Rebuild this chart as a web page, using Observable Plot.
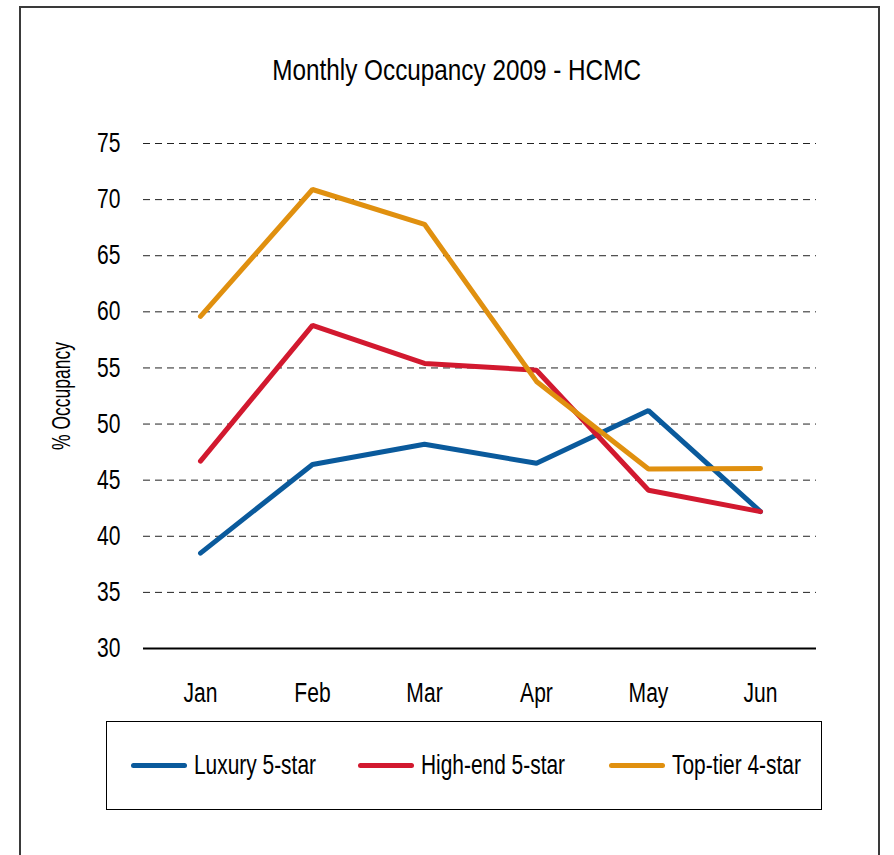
<!DOCTYPE html>
<html>
<head>
<meta charset="utf-8">
<script src="https://cdn.jsdelivr.net/npm/d3@7"></script>
<script src="https://cdn.jsdelivr.net/npm/@observablehq/plot@0.6"></script>
<style>
  html, body { margin: 0; padding: 0; background: #fff; }
  body { width: 894px; height: 855px; overflow: hidden; position: relative;
         font-family: "Liberation Sans", Arial, sans-serif; }
  #frame { position: absolute; left: 19px; top: 6px; width: 861px; height: 900px;
           border: 2px solid #3a3a3a; box-sizing: border-box; }
  #title { position: absolute; left: 0; width: 914px; top: 52px; text-align: center;
           font-size: 30px; color: #000; line-height: 36px; }
  #title span { display: inline-block; transform: scaleX(0.81); }
  #chart { position: absolute; left: 0; top: 0; }
  #legend { position: absolute; left: 106px; top: 721px; width: 716px; height: 89px;
            border: 1.5px solid #000; box-sizing: border-box; }
  .item { position: absolute; top: 0; height: 86px; display: flex; align-items: center;
          font-size: 27.5px; color: #000; white-space: nowrap; }
  .item .t { display: inline-block; transform: scaleX(0.76); transform-origin: 0 50%; }
  .sw { display: inline-block; width: 56px; height: 5px; border-radius: 3px; margin-right: 7px; }
</style>
</head>
<body>
<div id="frame"></div>
<div id="chart"></div>
<div id="title"><span>Monthly Occupancy 2009 - HCMC</span></div>
<div id="legend"></div>
<script>
const months = ["Jan", "Feb", "Mar", "Apr", "May", "Jun"];
const seriesNames = ["Luxury 5-star", "High-end 5-star", "Top-tier 4-star"];
const luxury = [38.5, 46.4, 48.2, 46.5, 51.2, 42.2];
const highEnd = [46.7, 58.8, 55.4, 54.8, 44.1, 42.2];
const topTier = [59.6, 70.9, 67.8, 53.8, 46.0, 46.05];
const yTicks = [30, 35, 40, 45, 50, 55, 60, 65, 70, 75];
const colors = ["#0a5a9c", "#d2192f", "#e0900f"];

const seriesValues = [luxury, highEnd, topTier];
const data = [];
seriesNames.forEach((s, i) => months.forEach((m, j) => data.push({series: s, month: m, value: seriesValues[i][j]})));

const font = '"Liberation Sans", Arial, sans-serif';

const chart = Plot.plot({
  width: 894,
  height: 700,
  marginLeft: 143,
  marginRight: 78,
  marginTop: 143,
  marginBottom: 52,
  style: {fontFamily: font, fontSize: "27px", color: "#000", background: "transparent", overflow: "visible"},
  x: {type: "point", domain: months, padding: 0.5, label: null, tickSize: 0, tickPadding: 34},
  y: {domain: [30, 75], ticks: yTicks, label: "% Occupancy", labelAnchor: "center", labelOffset: 91,
      tickSize: 0, tickPadding: 23, labelArrow: "none"},
  color: {domain: seriesNames, range: colors},
  marks: [
    Plot.ruleY(yTicks.filter(t => t > 30), {stroke: "#222", strokeWidth: 1, strokeDasharray: "7,5"}),
    Plot.ruleY([30], {stroke: "#000", strokeWidth: 2}),
    Plot.lineY(data, {x: "month", y: "value", z: "series", stroke: "series", strokeWidth: 5,
                      strokeLinecap: "round", strokeLinejoin: "miter"})
  ]
});
document.getElementById("chart").appendChild(chart);

// condense axis text to match the narrow typeface of the original
d3.select(chart).selectAll("g[aria-label='y-axis label'] text")
  .attr("font-size", 25);
d3.select(chart).selectAll("g[aria-label='y-axis tick label'] text, g[aria-label='x-axis tick label'] text")
  .each(function() {
    const len = this.getComputedTextLength();
    d3.select(this).attr("textLength", len * 0.78).attr("lengthAdjust", "spacingAndGlyphs");
  });
d3.select(chart).selectAll("g[aria-label='y-axis label'] text")
  .attr("textLength", 108).attr("lengthAdjust", "spacingAndGlyphs");

// legend
const legend = document.getElementById("legend");
const lefts = [24, 251, 502];
seriesNames.forEach((s, i) => {
  const it = document.createElement("div");
  it.className = "item";
  it.style.left = lefts[i] + "px";
  const sw = document.createElement("span");
  sw.className = "sw";
  sw.style.background = colors[i];
  it.appendChild(sw);
  const t = document.createElement("span");
  t.className = "t";
  t.textContent = s;
  it.appendChild(t);
  legend.appendChild(it);
});
</script>
</body>
</html>
